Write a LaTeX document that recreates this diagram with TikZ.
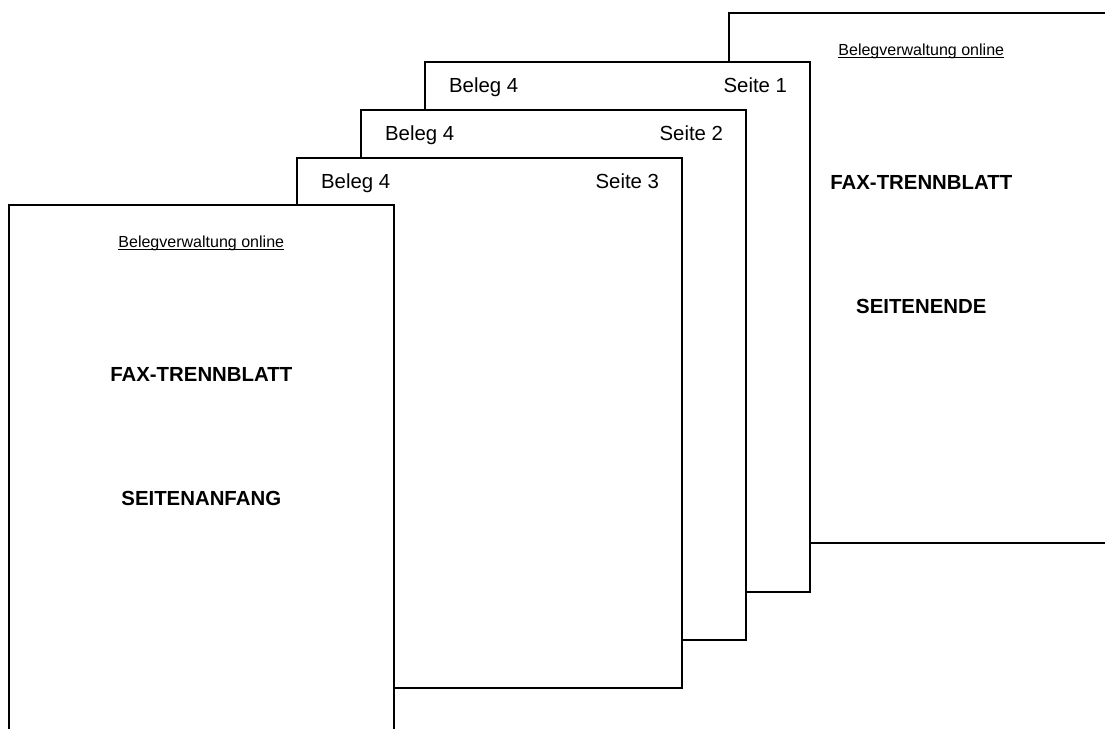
\documentclass[tikz,border=0pt]{standalone}
\usepackage{fontspec}
\setmainfont{Liberation Sans}
\usetikzlibrary{calc}
\tikzset{
  blatt/.style={draw,fill=white,line width=1.1pt,anchor=north west,minimum width=9.625cm,minimum height=13.25cm,inner sep=0pt},
  kopf/.style={inner sep=0pt,font=\fontsize{14.5}{17}\selectfont},
  titel/.style={inner sep=0pt,font=\fontsize{14.5}{17}\selectfont\bfseries},
  fuss/.style={inner sep=0pt,font=\fontsize{11.4}{13}\selectfont}
}

\begin{document}
\begin{tikzpicture}
\clip (0,0) rectangle (27.625,-18.2);
% hinteres Trennblatt
\node[blatt] (ende) at (18.2,-0.3) {};
\node[fuss] (ende-bv) at ($(ende.north)+(0,-1.12)$) {\underline{\smash{Belegverwaltung online}}};
\node[titel] (ende-fax) at ($(ende.north)+(0,-4.25)$) {FAX-TRENNBLATT};
\node[titel] (ende-se) at ($(ende.north)+(0,-7.35)$) {SEITENENDE};
% Belegseiten
\node[blatt] (s1) at (10.6,-1.525) {};
\node[kopf,anchor=base west] (s1-b) at ($(s1.north west)+(0.62,-0.78)$) {Beleg 4};
\node[kopf,anchor=base east] (s1-s) at ($(s1.north east)+(-0.58,-0.78)$) {Seite 1};
\node[blatt] (s2) at (9.0,-2.725) {};
\node[kopf,anchor=base west] (s2-b) at ($(s2.north west)+(0.62,-0.78)$) {Beleg 4};
\node[kopf,anchor=base east] (s2-s) at ($(s2.north east)+(-0.58,-0.78)$) {Seite 2};
\node[blatt] (s3) at (7.4,-3.925) {};
\node[kopf,anchor=base west] (s3-b) at ($(s3.north west)+(0.62,-0.78)$) {Beleg 4};
\node[kopf,anchor=base east] (s3-s) at ($(s3.north east)+(-0.58,-0.78)$) {Seite 3};
% vorderes Trennblatt
\node[blatt] (anfang) at (0.2,-5.1) {};
\node[fuss] (anfang-bv) at ($(anfang.north)+(0,-1.12)$) {\underline{\smash{Belegverwaltung online}}};
\node[titel] (anfang-fax) at ($(anfang.north)+(0,-4.25)$) {FAX-TRENNBLATT};
\node[titel] (anfang-sa) at ($(anfang.north)+(0,-7.35)$) {SEITENANFANG};
\end{tikzpicture}
\end{document}
